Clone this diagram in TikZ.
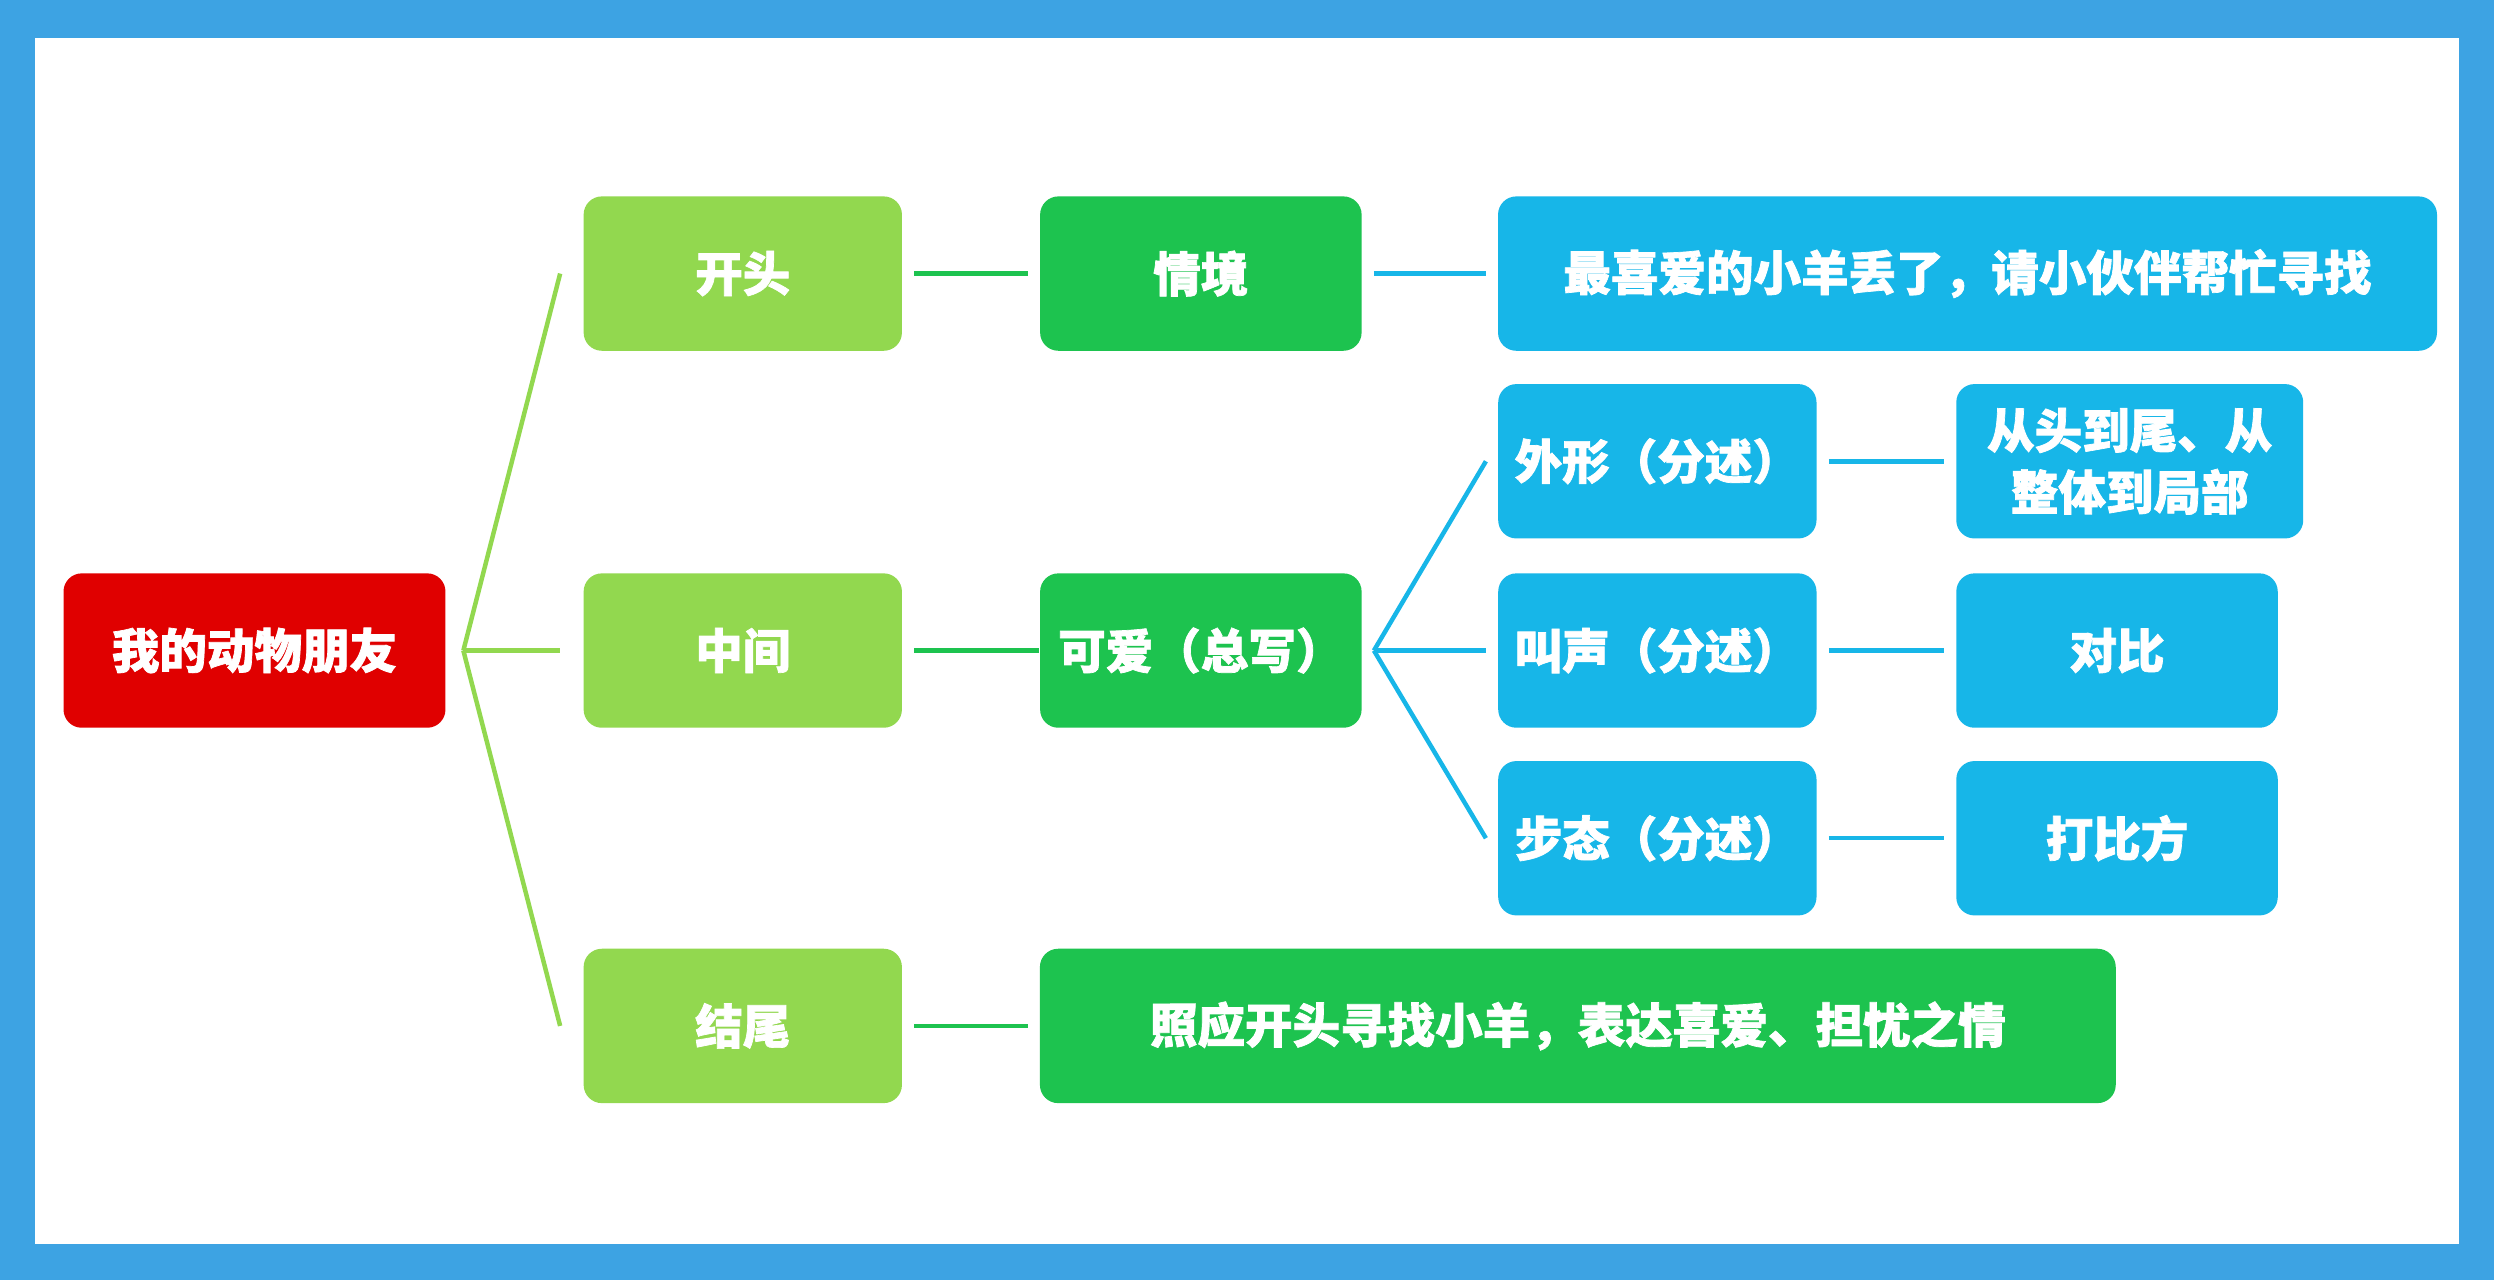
\documentclass[tikz,border=0pt]{standalone}
\usepackage{fontspec}
\setmainfont{Noto Sans CJK SC}[FakeBold=1.5]
\definecolor{frameblue}{HTML}{3DA3E3}
\definecolor{rootred}{HTML}{E00000}
\definecolor{lgreen}{HTML}{92D84F}
\definecolor{dgreen}{HTML}{1DC34F}
\definecolor{boxblue}{HTML}{17B6E8}
\tikzset{
	box/.style={rounded corners=0.6ex, text=white, font=\bfseries\fontsize{8.5}{11}\selectfont, minimum height=0.97cm, inner sep=1pt, align=center},
	rootbox/.style={box, fill=rootred, minimum width=2.4cm},
	lv1/.style={box, fill=lgreen, minimum width=2cm},
	lv2/.style={box, fill=dgreen},
	lv3/.style={box, fill=boxblue},
	glink/.style={lgreen, thick},
	dlink/.style={dgreen, thick},
	blink/.style={boxblue, thick}
}
\begin{document}
\begin{tikzpicture}[x=0.01cm, y=-0.01cm]
	\fill[frameblue] (0,0) rectangle (1568,805);
	\fill[white] (22,24) rectangle (1546,782);
	\useasboundingbox (0,0) rectangle (1568,805);
	% nodes
	\node[rootbox] (root) at (160,409) {我的动物朋友};
	\node[lv1] (kaitou) at (467,172) {开头};
	\node[lv1] (zhongjian) at (467,409) {中间};
	\node[lv1] (jiewei) at (467,645) {结尾};
	\node[lv2, minimum width=2.02cm] (qingjing) at (755,172) {情境};
	\node[lv2, minimum width=2.02cm] (keai) at (755,409) {可爱（总写）};
	\node[lv2, minimum width=6.76cm] (zhaoying) at (992,645) {照应开头寻找小羊，表达喜爱、担忧之情};
	\node[lv3, minimum width=5.9cm] (zuixiai) at (1237,172) {最喜爱的小羊丢了，请小伙伴帮忙寻找};
	\node[lv3, minimum width=2cm] (waixing) at (1042,290) {外形（分述）};
	\node[lv3, minimum width=2cm] (jiaosheng) at (1042,409) {叫声（分述）};
	\node[lv3, minimum width=2cm] (butai) at (1042,527) {步态（分述）};
	\node[lv3, minimum width=2.18cm, text width=2.1cm] (congtou) at (1339,290) {从头到尾、从\\整体到局部};
	\node[lv3, minimum width=2.02cm] (duibi) at (1331,409) {对比};
	\node[lv3, minimum width=2.02cm] (dabifang) at (1331,527) {打比方};
	% links
	\draw[glink] ([xshift=3pt]root.east) -- ([xshift=-4pt]kaitou.west);
	\draw[glink] ([xshift=3pt]root.east) -- ([xshift=-4pt]zhongjian.west);
	\draw[glink] ([xshift=3pt]root.east) -- ([xshift=-4pt]jiewei.west);
	\draw[dlink] ([xshift=2pt]kaitou.east) -- ([xshift=-2pt]qingjing.west);
	\draw[dlink] ([xshift=2pt]zhongjian.east) -- (keai.west);
	\draw[dlink] ([xshift=2pt]jiewei.east) -- ([xshift=-2pt]zhaoying.west);
	\draw[blink] ([xshift=2pt]qingjing.east) -- ([xshift=-2pt]zuixiai.west);
	\foreach \n in {waixing, jiaosheng, butai}
		\draw[blink] ([xshift=2pt]keai.east) -- ([xshift=-2pt]\n.west);
	\draw[blink] ([xshift=2pt]waixing.east) -- ([xshift=-2pt]congtou.west);
	\draw[blink] ([xshift=2pt]jiaosheng.east) -- ([xshift=-2pt]duibi.west);
	\draw[blink] ([xshift=2pt]butai.east) -- ([xshift=-2pt]dabifang.west);
\end{tikzpicture}
\end{document}
